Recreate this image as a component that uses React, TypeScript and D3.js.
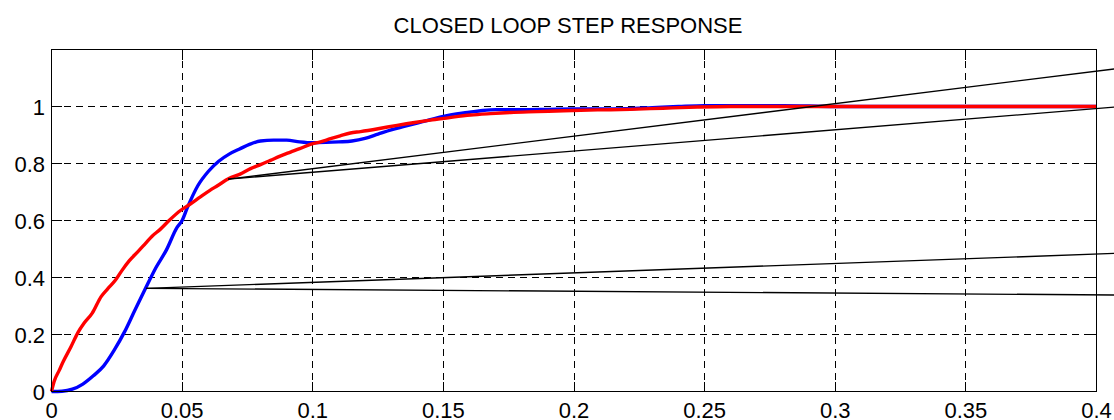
import React from "react";
import * as d3 from "d3";

const TITLE = "CLOSED LOOP STEP RESPONSE";

const xTicks = [0, 0.05, 0.1, 0.15, 0.2, 0.25, 0.3, 0.35, 0.4];
const xTickLabels = ["0", "0.05", "0.1", "0.15", "0.2", "0.25", "0.3", "0.35", "0.4"];
const yTicks = [0, 0.2, 0.4, 0.6, 0.8, 1];
const yTickLabels = ["0", "0.2", "0.4", "0.6", "0.8", "1"];

const blueT = [0, 0.004, 0.008, 0.012, 0.016, 0.02, 0.024, 0.028, 0.032, 0.036, 0.04, 0.044, 0.048, 0.05, 0.052, 0.056, 0.06, 0.064, 0.068, 0.072, 0.076, 0.08, 0.085, 0.09, 0.095, 0.1, 0.105, 0.11, 0.115, 0.12, 0.125, 0.13, 0.135, 0.14, 0.145, 0.15, 0.155, 0.16, 0.165, 0.17, 0.18, 0.19, 0.2, 0.21, 0.22, 0.23, 0.24, 0.25, 0.28, 0.3, 0.35, 0.4];
const blueY = [0, 0.001, 0.008, 0.026, 0.055, 0.09, 0.145, 0.21, 0.287, 0.362, 0.435, 0.497, 0.575, 0.6, 0.645, 0.722, 0.772, 0.808, 0.833, 0.851, 0.868, 0.879, 0.882, 0.882, 0.876, 0.873, 0.874, 0.876, 0.879, 0.888, 0.903, 0.918, 0.93, 0.942, 0.954, 0.965, 0.974, 0.98, 0.986, 0.989, 0.989, 0.99, 0.991, 0.991, 0.992, 0.996, 1.0, 1.003, 1.003, 1.0, 1.0, 1.0];

const redT = [0, 0.001, 0.003, 0.0045, 0.0075, 0.01, 0.0125, 0.0156, 0.019, 0.0215, 0.0245, 0.027, 0.0298, 0.033, 0.036, 0.0385, 0.0415, 0.045, 0.0495, 0.053, 0.057, 0.0605, 0.0635, 0.0679, 0.072, 0.0762, 0.08, 0.0838, 0.0875, 0.0915, 0.095, 0.0991, 0.103, 0.1068, 0.1105, 0.1144, 0.1183, 0.125, 0.1323, 0.139, 0.1451, 0.153, 0.1604, 0.168, 0.1757, 0.186, 0.1961, 0.209, 0.2216, 0.234, 0.2472, 0.26, 0.3, 0.35, 0.4];
const redY = [0, 0.035, 0.075, 0.105, 0.158, 0.205, 0.24, 0.275, 0.333, 0.36, 0.391, 0.425, 0.459, 0.49, 0.52, 0.545, 0.568, 0.6, 0.636, 0.657, 0.683, 0.705, 0.722, 0.747, 0.762, 0.782, 0.796, 0.811, 0.826, 0.84, 0.852, 0.867, 0.876, 0.887, 0.897, 0.907, 0.912, 0.922, 0.934, 0.944, 0.952, 0.962, 0.97, 0.975, 0.979, 0.982, 0.985, 0.988, 0.99, 0.994, 0.998, 1.0, 1.0, 1.0, 1.0];

// black straight lines: [t0, y0, t1, y1]
const blackLines = [
  [0.0676, 0.745, 0.4069, 1.132],
  [0.0676, 0.745, 0.4069, 0.998],
  [0.0362, 0.362, 0.4069, 0.4846],
  [0.0362, 0.362, 0.4069, 0.3386],
];

const W = 1114;
const H = 420;
const X0 = 51.5;
const X1 = 1096.5;
const Y0 = 391.5;
const Y1 = 49.5;
const FONT = "'Liberation Sans', Arial, Helvetica, sans-serif";

export default function App() {
  const x = d3.scaleLinear().domain([0, 0.4]).range([X0, X1]);
  const y = d3.scaleLinear().domain([0, 1.2]).range([Y0, Y1]);
  const line = d3
    .line<[number, number]>()
    .x((d) => x(d[0]))
    .y((d) => y(d[1]))
    .curve(d3.curveMonotoneX);
  const blue = blueT.map((t, i) => [t, blueY[i]] as [number, number]);
  const red = redT.map((t, i) => [t, redY[i]] as [number, number]);
  const tickLen = 10;
  const gridDash = "7,5";

  return (
    <svg
      width={W}
      height={H}
      style={{ position: "absolute", left: 0, top: 0, background: "#fff" }}
      fontFamily={FONT}
    >
      <rect x={0} y={0} width={W} height={H} fill="#fff" />
      {/* grid */}
      <g stroke="#000" strokeWidth={1} strokeDasharray={gridDash} shapeRendering="crispEdges">
        {xTicks
          .filter((t) => t > 0 && t < 0.4)
          .map((t) => (
            <line key={"gx" + t} x1={x(t)} x2={x(t)} y1={Y0} y2={Y1} />
          ))}
        {yTicks
          .filter((t) => t > 0)
          .map((t) => (
            <line key={"gy" + t} x1={X0} x2={X1} y1={y(t)} y2={y(t)} />
          ))}
      </g>
      {/* ticks */}
      <g stroke="#000" strokeWidth={1} shapeRendering="crispEdges">
        {xTicks.map((t) => (
          <g key={"tx" + t}>
            <line x1={x(t)} x2={x(t)} y1={Y0} y2={Y0 - tickLen} />
            <line x1={x(t)} x2={x(t)} y1={Y1} y2={Y1 + tickLen} />
          </g>
        ))}
        {yTicks.map((t) => (
          <g key={"ty" + t}>
            <line x1={X0} x2={X0 + tickLen} y1={y(t)} y2={y(t)} />
            <line x1={X1} x2={X1 - tickLen} y1={y(t)} y2={y(t)} />
          </g>
        ))}
      </g>
      {/* curves */}
      <path d={line(blue) || ""} fill="none" stroke="#0000ff" strokeWidth={3.4} strokeLinejoin="round" />
      <path d={line(red) || ""} fill="none" stroke="#ff0000" strokeWidth={3.4} strokeLinejoin="round" />
      {/* black lines */}
      {blackLines.map((l, i) => (
        <line key={"bl" + i} x1={x(l[0])} y1={y(l[1])} x2={x(l[2])} y2={y(l[3])} stroke="#000" strokeWidth={1.4} />
      ))}
      {/* axes box */}
      <rect x={X0} y={Y1} width={X1 - X0} height={Y0 - Y1} fill="none" stroke="#000" strokeWidth={1} shapeRendering="crispEdges" />
      {/* tick labels */}
      <g fontSize={22} fill="#000">
        {xTicks.map((t, i) => (
          <text key={"lx" + t} x={x(t)} y={418} textAnchor="middle">
            {xTickLabels[i]}
          </text>
        ))}
        {yTicks.map((t, i) => (
          <text key={"ly" + t} x={45} y={y(t) + 8} textAnchor="end">
            {yTickLabels[i]}
          </text>
        ))}
      </g>
      <text x={568} y={33} textAnchor="middle" fontSize={22} fill="#000">
        {TITLE}
      </text>
    </svg>
  );
}
